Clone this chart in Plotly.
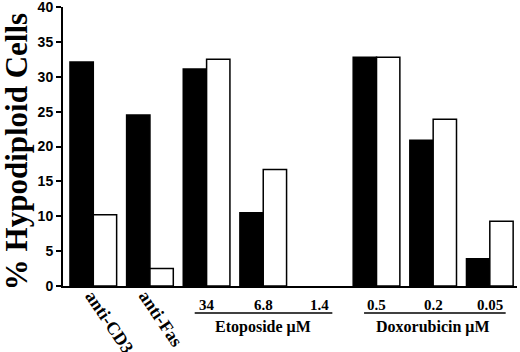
import plotly.graph_objects as go

# ---- data ----
categories = ["anti-CD3", "anti-Fas", "34", "6.8", "1.4", "0.5", "0.2", "0.05"]
black_values = [32.1, 24.5, 31.1, 10.5, None, 32.8, 20.9, 3.9]
white_values = [10.2, 2.5, 32.5, 16.7, None, 32.8, 23.9, 9.3]
rotated_labels = ["anti-CD3", "anti-Fas"]
group_labels = ["Etoposide \u03bcM", "Doxorubicin \u03bcM"]
group_spans = [(1.79, 4.22), (4.78, 7.28)]
group_centers = [3, 6]
y_ticks = [0, 5, 10, 15, 20, 25, 30, 35, 40]

x = list(range(len(categories)))
serif = "Liberation Serif"
sans = "Liberation Sans"

fig = go.Figure()
fig.add_bar(x=x, y=black_values, marker=dict(color="black", line=dict(color="black", width=1.5)),
            showlegend=False, cliponaxis=False, hoverinfo="skip")
fig.add_bar(x=x, y=white_values, marker=dict(color="white", line=dict(color="black", width=1.5)),
            showlegend=False, cliponaxis=False, hoverinfo="skip")

# pixel offsets of the rotated label centres from their bar-group centre
rot_shift = {"anti-CD3": (16, -36), "anti-Fas": (11, -33)}

annotations = []
for i, lab in enumerate(categories):
    if lab in rotated_labels:
        dx, dy = rot_shift[lab]
        annotations.append(dict(x=i, y=0, xref="x", yref="paper", xanchor="center", yanchor="middle",
                                xshift=dx, yshift=dy, text=lab, textangle=56, showarrow=False,
                                font=dict(family=serif, size=18, color="black", weight="bold")))
    else:
        annotations.append(dict(x=i, y=0, xref="x", yref="paper", yanchor="top", yshift=-9,
                                text=lab, showarrow=False,
                                font=dict(family=serif, size=15, color="black", weight="bold")))
for lab, c in zip(group_labels, group_centers):
    annotations.append(dict(x=c, y=0, xref="x", yref="paper", yanchor="top", yshift=-30,
                            text=lab, showarrow=False,
                            font=dict(family=serif, size=16, color="black", weight="bold")))
annotations.append(dict(x=-0.102, y=0.482, xref="paper", yref="paper", xanchor="center", yanchor="middle",
                        text="% Hypodiploid Cells", textangle=-90, showarrow=False,
                        font=dict(family=serif, size=31, color="black", weight="bold")))

shapes = []
for a, b in group_spans:
    shapes.append(dict(type="line", xref="x", yref="paper", x0=a, x1=b, y0=-0.097, y1=-0.097,
                       line=dict(color="black", width=1.5)))

fig.update_layout(
    width=520, height=352,
    margin=dict(l=63, r=3, t=7, b=66, autoexpand=False),
    paper_bgcolor="white", plot_bgcolor="white",
    barmode="group", bargap=0.176, bargroupgap=0,
    annotations=annotations, shapes=shapes,
    xaxis=dict(range=[-0.535, 7.48], showline=True, linecolor="black", linewidth=2,
               ticks="", showticklabels=False,
               showgrid=False, zeroline=False, automargin=False),
    yaxis=dict(range=[0, 40], tickvals=y_ticks, showline=True, linecolor="black", linewidth=2,
               ticks="outside", ticklen=5, tickwidth=2, tickcolor="black",
               tickfont=dict(family=sans, size=14, color="black", weight="bold"),
               showgrid=False, zeroline=False, automargin=False, ticklabeloverflow="allow"),
)

fig.write_html("out.html", config={"displayModeBar": False},
               post_script="document.body.style.margin='0';document.body.style.overflow='hidden';")
